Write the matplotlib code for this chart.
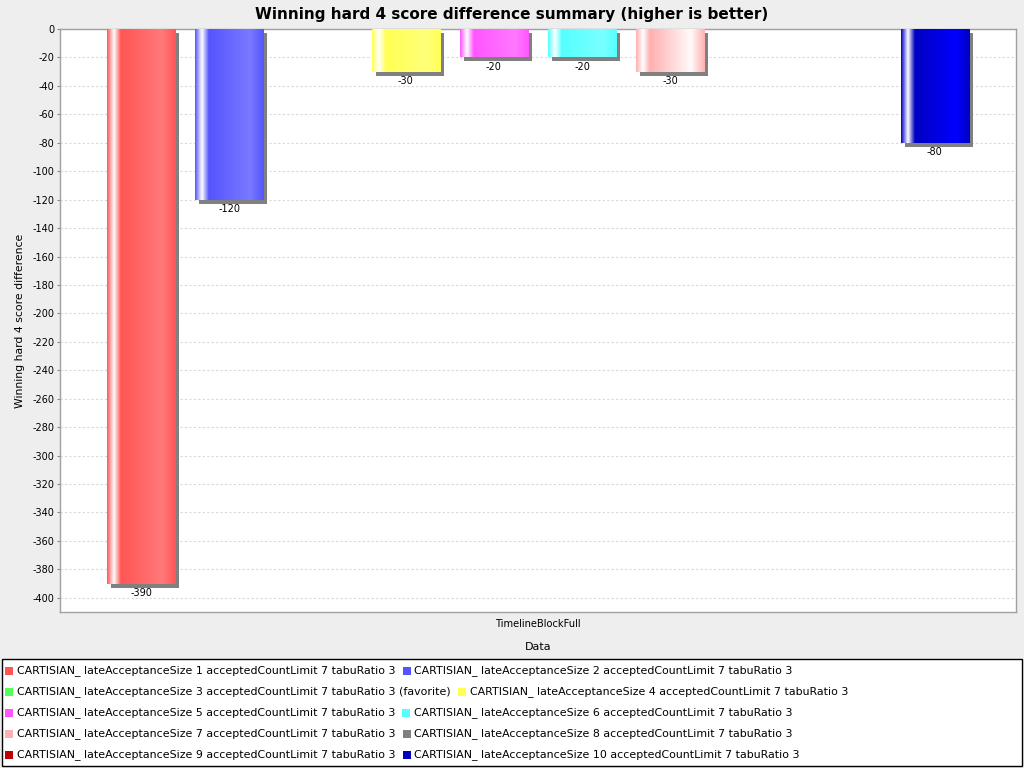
import matplotlib
matplotlib.use("Agg")
import matplotlib.pyplot as plt
import matplotlib.transforms as mtransforms
from matplotlib.patches import Rectangle
from matplotlib.colors import to_rgb
import numpy as np

title = "Winning hard 4 score difference summary (higher is better)"
y_label = "Winning hard 4 score difference"
x_label = "Data"
category = "TimelineBlockFull"

series_names = [
    "CARTISIAN_ lateAcceptanceSize 1 acceptedCountLimit 7 tabuRatio 3",
    "CARTISIAN_ lateAcceptanceSize 2 acceptedCountLimit 7 tabuRatio 3",
    "CARTISIAN_ lateAcceptanceSize 3 acceptedCountLimit 7 tabuRatio 3 (favorite)",
    "CARTISIAN_ lateAcceptanceSize 4 acceptedCountLimit 7 tabuRatio 3",
    "CARTISIAN_ lateAcceptanceSize 5 acceptedCountLimit 7 tabuRatio 3",
    "CARTISIAN_ lateAcceptanceSize 6 acceptedCountLimit 7 tabuRatio 3",
    "CARTISIAN_ lateAcceptanceSize 7 acceptedCountLimit 7 tabuRatio 3",
    "CARTISIAN_ lateAcceptanceSize 8 acceptedCountLimit 7 tabuRatio 3",
    "CARTISIAN_ lateAcceptanceSize 9 acceptedCountLimit 7 tabuRatio 3",
    "CARTISIAN_ lateAcceptanceSize 10 acceptedCountLimit 7 tabuRatio 3",
]
values = [-390, -120, 0, -30, -20, -20, -30, 0, 0, -80]
colors = ["#FF5555", "#5555FF", "#55FF55", "#FFFF55", "#FF55FF",
          "#55FFFF", "#FFAFAF", "#808080", "#C00000", "#0000C0"]
y_ticks = list(range(-400, 1, 20))


def brighter(c):
    # java.awt.Color.brighter()
    rgb = [int(round(v * 255)) for v in to_rgb(c)]
    if rgb == [0, 0, 0]:
        return (3 / 255,) * 3
    out = []
    for v in rgb:
        if 0 < v < 3:
            v = 3
        out.append(min(int(v / 0.7), 255) / 255)
    return tuple(out)


def bar_gradient(c, n=200):
    c0 = np.array(to_rgb(c))
    c1 = np.array(brighter(c))
    w = np.array([1.0, 1.0, 1.0])
    stops = [0.0, 0.1, 0.2, 0.8, 1.0]
    cols = [c0, w, c0, c1, c0]
    t = np.linspace(0, 1, n)
    img = np.zeros((1, n, 3))
    for k in range(3):
        img[0, :, k] = np.interp(t, stops, [cc[k] for cc in cols])
    return img


fig = plt.figure(figsize=(10.24, 7.68), dpi=100, facecolor="#EEEEEE")
W, H = 1024, 768
ax = fig.add_axes([60 / W, 1 - 612 / H, 956 / W, 583 / H])
ax.set_facecolor("white")

x = np.arange(len(values))
width = 0.773

# shadow, offset 4px right and 4px down
shadow_tr = ax.transData + mtransforms.ScaledTranslation(0.04, -0.04, fig.dpi_scale_trans)
ax.bar(x, values, width, color="#808080", transform=shadow_tr, zorder=2)
bars = ax.bar(x, values, width, color=colors, zorder=3)

for b, c, v in zip(bars, colors, values):
    if v == 0:
        continue
    x0 = b.get_x()
    x1 = x0 + b.get_width()
    ax.imshow(bar_gradient(c), extent=(x0, x1, v, 0), aspect="auto",
              interpolation="bilinear", zorder=4)
    ax.annotate(str(v), (b.get_x() + b.get_width() / 2, v), xytext=(0, -3),
                textcoords="offset points", ha="center", va="top", fontsize=7)

ax.set_xlim(-0.92, len(values) - 1 + 0.92)
ax.set_ylim(-410, 0)
ax.set_yticks(y_ticks)
ax.set_yticklabels([str(t) for t in y_ticks])
ax.tick_params(axis="y", direction="out", length=2, width=0.8, color="#888888",
               labelsize=7, pad=2)
ax.set_xticks([(len(values) - 1) / 2])
ax.set_xticklabels([category])
ax.tick_params(axis="x", length=0, labelsize=7.1, pad=5)
ax.yaxis.grid(True, color="#D8D8D8", linestyle=(0, (2, 2)), linewidth=0.8)
ax.set_axisbelow(True)
for s in ax.spines.values():
    s.set_color("#A0A0A0")
    s.set_linewidth(1)

ax.set_xlabel(x_label, fontsize=8, labelpad=9.5)
ax.set_ylabel(y_label, fontsize=7.8)
ax.yaxis.set_label_coords(-35 / 956, 0.5)

fig.text(0.5, 1 - 14 / H, title, ha="center", va="center", fontsize=11,
         fontweight="bold")

# legend box with flow layout, two items per row
fig.add_artist(Rectangle((2 / W, 1 - 766 / H), 1020 / W, 107 / H,
                         transform=fig.transFigure, facecolor="white",
                         edgecolor="black", linewidth=1))
renderer = fig.canvas.get_renderer()
for row in range(5):
    yc = 671 + row * 21
    xp = 5
    for col in range(2):
        i = row * 2 + col
        fig.add_artist(Rectangle((xp / W, 1 - (yc + 4) / H), 8 / W, 8 / H,
                                 transform=fig.transFigure,
                                 facecolor=colors[i], edgecolor="none"))
        t = fig.text((xp + 12) / W, 1 - yc / H, series_names[i], ha="left",
                     va="center", fontsize=7.9)
        bb = t.get_window_extent(renderer)
        xp = bb.x1 + 7

fig.savefig("out.png", dpi=100, facecolor=fig.get_facecolor())
